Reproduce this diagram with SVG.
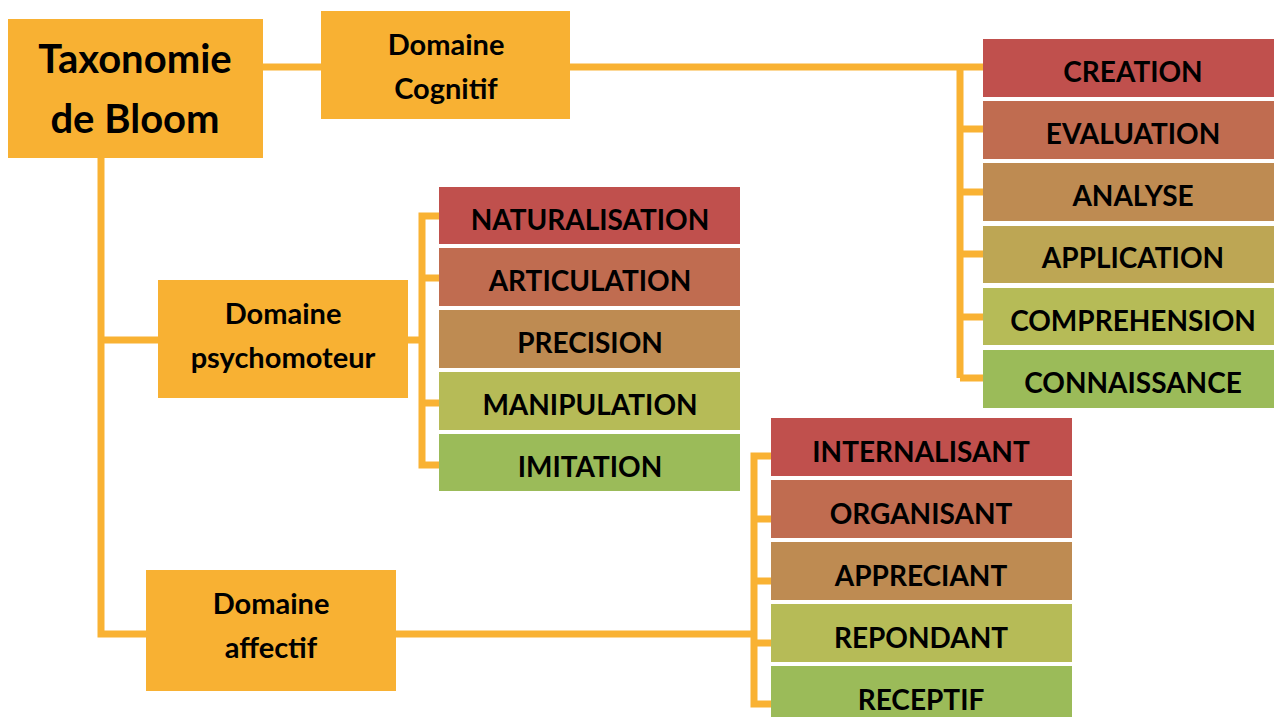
<svg xmlns="http://www.w3.org/2000/svg" width="1274" height="717" viewBox="0 0 1274 717">
<style>
.dom{fill:#F8B133}
.t{font-family:Lato,"Liberation Sans",sans-serif;font-weight:bold;fill:#000;text-anchor:middle}
.big{font-size:40px}
.mid{font-size:29px}
.lvl{font-size:28px}
.c{fill:none;stroke:#F9B233;stroke-width:7}
.r1{fill:#C0504D}.r2{fill:#C06C50}.r3{fill:#BE8B52}.r4{fill:#BDA654}.r5{fill:#B6BB57}.r6{fill:#9BBB59}
</style>
<rect width="1274" height="717" fill="#FFFFFF"/>
<g id="connectors">
<path class="c" d="M263 67H321"/>
<path class="c" d="M570 67H983M960 67V378M960 129H983M960 192H983M960 254H983M960 317H983M960 378H983"/>
<path class="c" d="M101 158V634H146M101 340H158"/>
<path class="c" d="M407 340H422M439 216H422V465H439M422 278H439M422 403H439"/>
<path class="c" d="M395 634H754M771 456H754V704H771M754 519H771M754 581H771M754 643H771"/>
</g>
<g id="root"><rect class="dom" x="8" y="19" width="255" height="139"/><text class="t big" x="135" y="73">Taxonomie</text><text class="t big" x="135" y="133">de Bloom</text></g>
<g id="cognitif"><rect class="dom" x="321" y="11" width="249" height="108"/><text class="t mid" x="446" y="55">Domaine</text><text class="t mid" x="446" y="99">Cognitif</text></g>
<g id="psychomoteur"><rect class="dom" x="158" y="280" width="250" height="118"/><text class="t mid" x="283" y="324">Domaine</text><text class="t mid" x="283" y="368">psychomoteur</text></g>
<g id="affectif"><rect class="dom" x="146" y="570" width="250" height="121"/><text class="t mid" x="271" y="614">Domaine</text><text class="t mid" x="271" y="658">affectif</text></g>
<g id="creation"><rect class="r1" x="983" y="39" width="301" height="58"/><text class="t lvl" x="1133" y="82">CREATION</text></g>
<g id="evaluation"><rect class="r2" x="983" y="101" width="301" height="58"/><text class="t lvl" x="1133" y="144">EVALUATION</text></g>
<g id="analyse"><rect class="r3" x="983" y="163" width="301" height="58"/><text class="t lvl" x="1133" y="206">ANALYSE</text></g>
<g id="application"><rect class="r4" x="983" y="226" width="301" height="57"/><text class="t lvl" x="1133" y="268">APPLICATION</text></g>
<g id="comprehension"><rect class="r5" x="983" y="288" width="301" height="57"/><text class="t lvl" x="1133" y="331">COMPREHENSION</text></g>
<g id="connaissance"><rect class="r6" x="983" y="350" width="301" height="58"/><text class="t lvl" x="1133" y="393">CONNAISSANCE</text></g>
<g id="naturalisation"><rect class="r1" x="439" y="187" width="301" height="57"/><text class="t lvl" x="590" y="230">NATURALISATION</text></g>
<g id="articulation"><rect class="r2" x="439" y="248" width="301" height="58"/><text class="t lvl" x="590" y="291">ARTICULATION</text></g>
<g id="precision"><rect class="r3" x="439" y="310" width="301" height="58"/><text class="t lvl" x="590" y="353">PRECISION</text></g>
<g id="manipulation"><rect class="r5" x="439" y="372" width="301" height="58"/><text class="t lvl" x="590" y="415">MANIPULATION</text></g>
<g id="imitation"><rect class="r6" x="439" y="434" width="301" height="57"/><text class="t lvl" x="590" y="477">IMITATION</text></g>
<g id="internalisant"><rect class="r1" x="771" y="418" width="301" height="58"/><text class="t lvl" x="921" y="462">INTERNALISANT</text></g>
<g id="organisant"><rect class="r2" x="771" y="480" width="301" height="58"/><text class="t lvl" x="921" y="524">ORGANISANT</text></g>
<g id="appreciant"><rect class="r3" x="771" y="542" width="301" height="58"/><text class="t lvl" x="921" y="586">APPRECIANT</text></g>
<g id="repondant"><rect class="r5" x="771" y="604" width="301" height="58"/><text class="t lvl" x="921" y="648">REPONDANT</text></g>
<g id="receptif"><rect class="r6" x="771" y="666" width="301" height="58"/><text class="t lvl" x="921" y="710">RECEPTIF</text></g>
</svg>
